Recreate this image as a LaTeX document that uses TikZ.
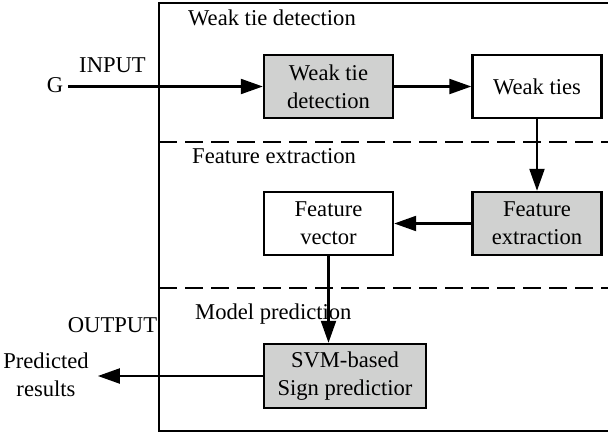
\documentclass[tikz,border=0pt]{standalone}
\usepackage{fontspec}
\setmainfont{Liberation Serif}
\usetikzlibrary{arrows.meta}
\definecolor{boxgray}{RGB}{208,209,208}
\begin{document}
\begin{tikzpicture}[x=1pt, y=-1pt,
  font=\fontsize{22.6}{28}\selectfont,
  proc/.style={draw, line width=2.4pt, minimum width=129pt, minimum height=63pt,
               align=center, inner sep=0pt},
  grayproc/.style={proc, fill=boxgray},
  arr/.style={line width=2.2pt, -{Triangle[length=22pt,width=15pt]}},
  lbl/.style={inner sep=0pt},
  frame/.style={line width=2.5pt},
  divider/.style={line width=2.4pt, dash pattern=on 18pt off 8pt}]
\useasboundingbox (0,0) rectangle (608,434);

% outer frame (open on the right) and the stage dividers
\draw[frame] (608,3) -| (159,431) -- (608,431);
\draw[divider] (159,142) -- (608,142);
\draw[divider] (159,288) -- (608,288);

% stage titles
\node[lbl, anchor=base west] (s1) at (188,25) {Weak tie detection};
\node[lbl, anchor=base west] (s2) at (192,163) {Feature extraction};
\node[lbl, anchor=base west] (s3) at (195,319) {Model prediction};

% processing blocks
\node[grayproc] (wtd) at (328.5,86.5) {Weak tie\\detection};
\node[proc]     (wt)  at (537,86.5)   {Weak ties};
\node[grayproc] (fe)  at (537,223.5)  {Feature\\extraction};
\node[proc]     (fv)  at (328.5,223.5) {Feature\\vector};
\node[grayproc, minimum width=162pt, minimum height=64pt] (svm) at (345,376)
  {SVM-based\\Sign predictior};

% input / output
\node[lbl] (g) at (55,85.5) {G};
\node[lbl, anchor=base] (inp) at (112.5,72) {INPUT};
\node[lbl, anchor=base] (outp) at (112.5,332) {OUTPUT};
\node[lbl, align=center] (pr) at (46,375) {Predicted\\results};

% flow
\draw[arr] ([xshift=5pt]g.east |- wtd.west) -- (wtd.west);
\draw[arr] (wtd) -- (wt);
\draw[arr] (wt) -- (fe);
\draw[arr] (fe) -- (fv);
\draw[arr] (fv) -- (fv |- svm.north);
\draw[arr] (svm.west) -- ([xshift=9pt]pr.east |- svm.west);
\end{tikzpicture}
\end{document}
